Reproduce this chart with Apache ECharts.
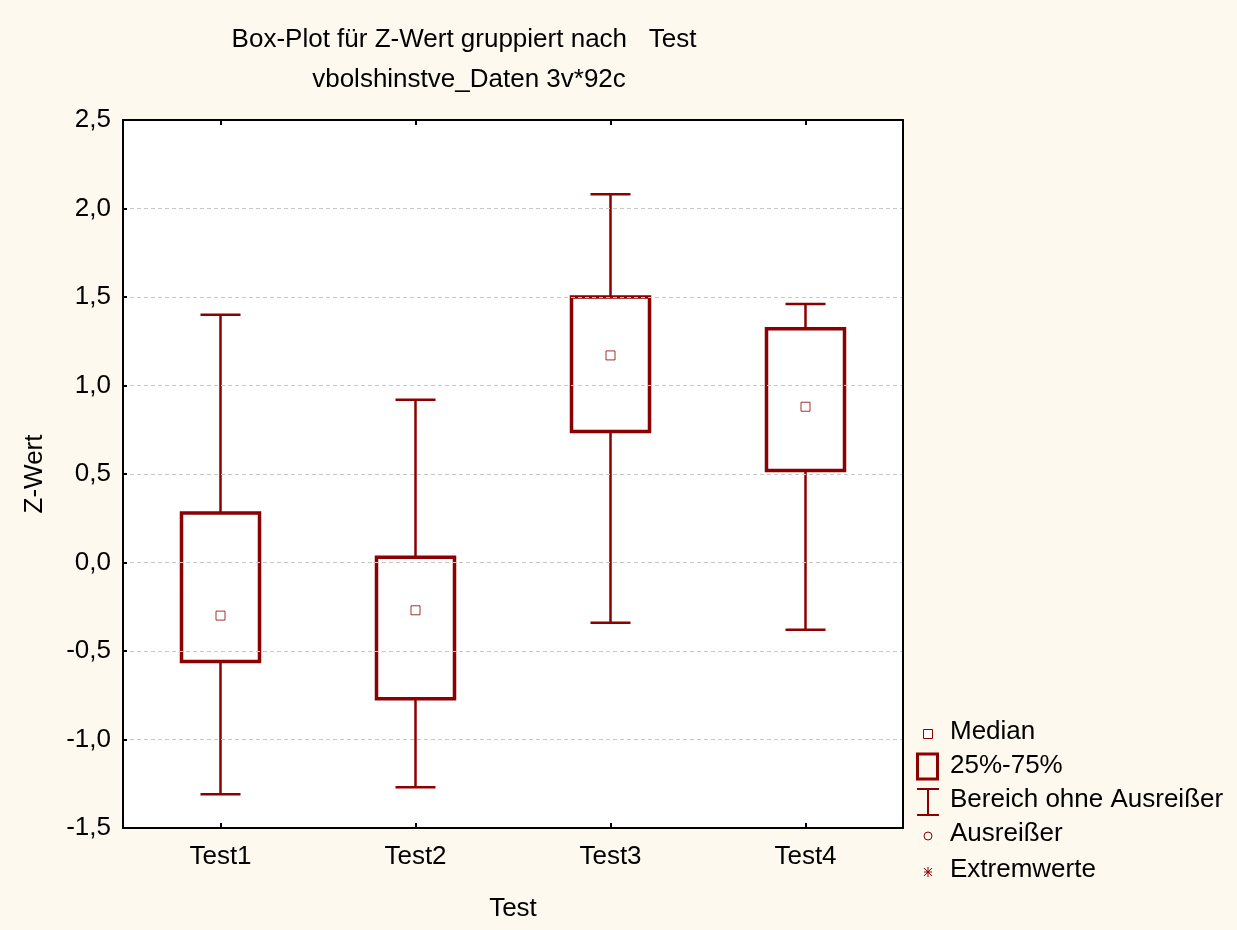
<!DOCTYPE html>
<html>
<head>
<meta charset="utf-8">
<script src="https://cdn.jsdelivr.net/npm/echarts@6/dist/echarts.min.js"></script>
<style>
html,body{margin:0;padding:0;background:#FEF9EF;}
#chart{width:1237px;height:930px;}
</style>
</head>
<body>
<div id="chart"></div>
<script>
var categories = ['Test1', 'Test2', 'Test3', 'Test4'];
var minValues    = [-1.31, -1.27, -0.34, -0.38];
var q1Values     = [-0.56, -0.77,  0.74,  0.52];
var medianValues = [-0.30, -0.27,  1.17,  0.88];
var q3Values     = [ 0.28,  0.03,  1.50,  1.32];
var maxValues    = [ 1.40,  0.92,  2.08,  1.46];
var yTicks = [-1.5, -1.0, -0.5, 0.0, 0.5, 1.0, 1.5, 2.0, 2.5];

var RED = '#8B0000';
var FONT = 'Liberation Sans, Arial, sans-serif';
var FS = 26;

var boxData = categories.map(function (c, i) {
  return [i, minValues[i], q1Values[i], medianValues[i], q3Values[i], maxValues[i]];
});
var medData = categories.map(function (c, i) { return [i, medianValues[i]]; });

function renderBox(params, api) {
  var idx = api.value(0);
  var pMin = api.coord([idx, api.value(1)]);
  var pQ1 = api.coord([idx, api.value(2)]);
  var pQ3 = api.coord([idx, api.value(4)]);
  var pMax = api.coord([idx, api.value(5)]);
  var x = pMin[0];
  var boxW = 78, capW = 40;
  var lineStyle = { stroke: RED, lineWidth: 2.5 };
  return {
    type: 'group',
    children: [
      { type: 'line', shape: { x1: x, y1: pMax[1], x2: x, y2: pQ3[1] }, style: lineStyle },
      { type: 'line', shape: { x1: x, y1: pQ1[1], x2: x, y2: pMin[1] }, style: lineStyle },
      { type: 'line', shape: { x1: x - capW / 2, y1: pMax[1], x2: x + capW / 2, y2: pMax[1] }, style: lineStyle },
      { type: 'line', shape: { x1: x - capW / 2, y1: pMin[1], x2: x + capW / 2, y2: pMin[1] }, style: lineStyle },
      { type: 'rect', shape: { x: x - boxW / 2, y: pQ3[1], width: boxW, height: pQ1[1] - pQ3[1] },
        style: { fill: '#ffffff', stroke: RED, lineWidth: 3.5 } }
    ]
  };
}

var chart = echarts.init(document.getElementById('chart'));
var lx = 928;
function legText(y, t) {
  return { type: 'text', left: 950, top: y - 15, style: { text: t, fill: '#000', font: FS + 'px ' + FONT } };
}
var tickStyle = { color: '#000', width: 2 };
chart.setOption({
  backgroundColor: '#FEF9EF',
  animation: false,
  title: [
    { text: 'Box-Plot für Z-Wert gruppiert nach   Test', left: 459, top: 22, textAlign: 'center',
      textStyle: { fontFamily: FONT, fontSize: 26, fontWeight: 'normal', color: '#000' } },
    { text: 'vbolshinstve_Daten 3v*92c', left: 464, top: 62, textAlign: 'center',
      textStyle: { fontFamily: FONT, fontSize: 26, fontWeight: 'normal', color: '#000' } }
  ],
  grid: { left: 123, top: 120, width: 780, height: 708, show: true, backgroundColor: '#ffffff',
          borderColor: '#000', borderWidth: 0, containLabel: false, outerBoundsMode: 'none' },
  xAxis: [{
    type: 'category', data: categories, boundaryGap: true,
    name: 'Test', nameLocation: 'middle', nameGap: 68,
    nameTextStyle: { fontFamily: FONT, fontSize: FS, color: '#000' },
    axisLine: { show: true, onZero: false, lineStyle: tickStyle },
    axisTick: { show: true, inside: true, alignWithLabel: true, length: 5, lineStyle: tickStyle },
    axisLabel: { fontFamily: FONT, fontSize: FS, color: '#000', margin: 16 },
    splitLine: { show: false }, z: 5
  }, {
    type: 'category', data: categories, position: 'top',
    axisLine: { show: true, onZero: false, lineStyle: tickStyle },
    axisTick: { show: true, inside: true, alignWithLabel: true, length: 5, lineStyle: tickStyle },
    axisLabel: { show: false }, z: 5
  }],
  yAxis: [{
    type: 'value', min: -1.5, max: 2.5, interval: 0.5,
    name: 'Z-Wert', nameLocation: 'middle', nameGap: 75, nameRotate: 90,
    nameTextStyle: { fontFamily: FONT, fontSize: FS, color: '#000' },
    axisLine: { show: true, onZero: false, lineStyle: tickStyle },
    axisTick: { show: true, inside: true, length: 4, lineStyle: tickStyle },
    axisLabel: { fontFamily: FONT, fontSize: FS, color: '#000', margin: 12,
      formatter: function (v) { return v.toFixed(1).replace('.', ','); } },
    splitLine: { show: true, lineStyle: { color: '#c8c8c8', type: [4, 3], width: 1 } }, z: 5
  }, {
    type: 'value', min: -1.5, max: 2.5, interval: 0.5, position: 'right',
    axisLine: { show: true, onZero: false, lineStyle: tickStyle },
    axisTick: { show: false }, axisLabel: { show: false }, splitLine: { show: false }, z: 5
  }],
  series: [
    { type: 'custom', renderItem: renderBox, data: boxData, encode: { x: 0, y: [1, 2, 3, 4, 5] }, z: 2 },
    { type: 'scatter', data: medData, symbol: 'rect', symbolSize: 9, z: 3,
      itemStyle: { color: '#ffffff', borderColor: RED, borderWidth: 1 } }
  ],
  graphic: [
    { type: 'rect', shape: { x: lx - 4.5, y: 729.5, width: 9, height: 9 }, style: { fill: '#fff', stroke: RED, lineWidth: 1 } },
    legText(734, 'Median'),
    { type: 'rect', shape: { x: 917.5, y: 754, width: 20, height: 25 }, style: { fill: 'none', stroke: RED, lineWidth: 3 } },
    legText(768, '25%-75%'),
    { type: 'line', shape: { x1: lx, y1: 789, x2: lx, y2: 815 }, style: { stroke: RED, lineWidth: 2 } },
    { type: 'line', shape: { x1: 917, y1: 789, x2: 939, y2: 789 }, style: { stroke: RED, lineWidth: 2 } },
    { type: 'line', shape: { x1: 917, y1: 815, x2: 939, y2: 815 }, style: { stroke: RED, lineWidth: 2 } },
    legText(802, 'Bereich ohne Ausreißer'),
    { type: 'circle', shape: { cx: lx, cy: 836, r: 4 }, style: { fill: 'none', stroke: RED, lineWidth: 1 } },
    legText(836, 'Ausreißer'),
    { type: 'line', shape: { x1: lx - 4, y1: 872, x2: lx + 4, y2: 872 }, style: { stroke: RED, lineWidth: 1 } },
    { type: 'line', shape: { x1: lx, y1: 867, x2: lx, y2: 877 }, style: { stroke: RED, lineWidth: 1 } },
    { type: 'line', shape: { x1: lx - 4, y1: 868, x2: lx + 4, y2: 876 }, style: { stroke: RED, lineWidth: 1 } },
    { type: 'line', shape: { x1: lx - 4, y1: 876, x2: lx + 4, y2: 868 }, style: { stroke: RED, lineWidth: 1 } },
    legText(872, 'Extremwerte')
  ]
});
</script>
</body>
</html>
